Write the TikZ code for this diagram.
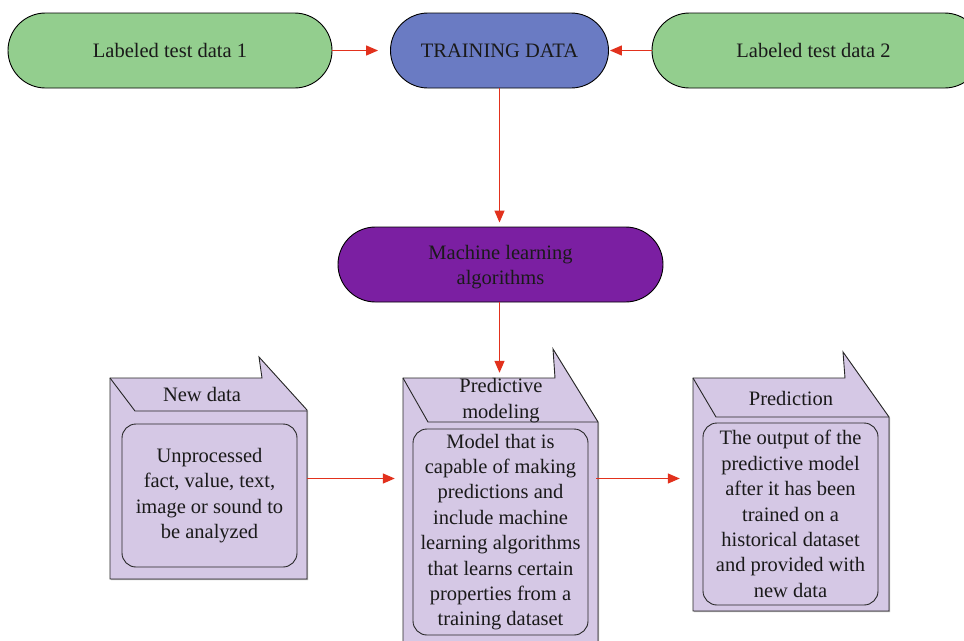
\documentclass[tikz,border=0pt]{standalone}
\usepackage{fontspec}
\setmainfont{Liberation Serif}
\usetikzlibrary{arrows.meta}
\definecolor{pgreen}{HTML}{93CE8E}
\definecolor{pblue}{HTML}{6A7BC3}
\definecolor{ppurple}{HTML}{7B1FA2}
\definecolor{plav}{HTML}{D5C8E5}
\definecolor{pred}{HTML}{E2311D}
\definecolor{ptext}{HTML}{1A1A1A}
\tikzset{
  pill/.style={draw=black, line width=0.9pt, rounded corners=37.5pt, minimum height=75pt, inner sep=0pt, text=ptext, align=center, font=\fontsize{20.5}{25.4}\selectfont},
  arr/.style={draw=pred, line width=1.3pt, -{Triangle[length=12pt,width=10pt]}},
  docshape/.style={fill=plav, draw=black!85, line width=0.9pt, line join=miter},
  docshadow/.style={fill=black!30},
  body/.style={inner sep=0pt, draw=none},
  innerbox/.style={draw=black!85, line width=0.9pt, rounded corners=14pt, inner sep=0pt, align=center, text=ptext, font=\fontsize{20.5}{25.4}\selectfont},
  doctitle/.style={inner sep=0pt, align=center, text=ptext, font=\fontsize{20.5}{25.4}\selectfont}
}
\begin{document}
\begin{tikzpicture}[x=1pt,y=-1pt]
\useasboundingbox (0,0) rectangle (964,640);
\clip (0,0) rectangle (964,640);
\fill[white] (0,0) rectangle (964,640);

% top row
\node[pill, fill=pgreen, minimum width=324pt] (lab1) at (170,50.5) {Labeled test data 1};
\node[pill, fill=pblue, minimum width=218pt] (train) at (499.5,50.5) {TRAINING DATA};
\node[pill, fill=pgreen, minimum width=330pt] (lab2) at (817,50.5) {\hspace*{-7pt}Labeled test data 2};
\node[pill, fill=ppurple, minimum width=325pt] (ml) at (500.5,264.5) {\rule{0pt}{20pt}Machine learning\\algorithms};

% document shapes: shadows
\fill[docshadow] (111.2,379.2) -- (263.2,379.2) -- (260.2,358.2) -- (308.2,411.2) -- (308.2,580.2) -- (111.2,580.2) -- cycle;
\fill[docshadow] (404.2,379.2) -- (556.2,379.2) -- (554.2,350.2) -- (599.2,423.2) -- (599.2,650) -- (404.2,650) -- cycle;
\fill[docshadow] (694.2,379.2) -- (846.2,379.2) -- (844.2,353.2) -- (890.2,418.2) -- (890.2,612.2) -- (694.2,612.2) -- cycle;

% New data
\filldraw[docshape] (110,378) -- (262,378) -- (259,357) -- (307,410) -- (307,579) -- (110,579) -- cycle;
\draw[docshape, fill=none] (110,378) -- (135,411) -- (307,411);
\node[body, minimum width=197pt, minimum height=201pt] (newbody) at (208.5,478.5) {};
\node[doctitle] (newtitle) at (202,394) {New data};
\node[innerbox, minimum width=175pt, minimum height=143pt] (newin) at (209.5,495.5) {Unprocessed\\fact, value, text,\\image or sound to\\be analyzed};

% Predictive modeling
\filldraw[docshape] (403,378) -- (555,378) -- (553,349) -- (598,422) -- (598,650) -- (403,650) -- cycle;
\draw[docshape, fill=none] (403,378) -- (428,422) -- (598,422);
\node[body, minimum width=195pt, minimum height=262pt] (predbody) at (500.5,509) {};
\node[doctitle] (predtitle) at (501,400.5) {Predictive\\modeling};
\node[innerbox, minimum width=175pt, minimum height=206pt] (predin) at (500.5,532) {Model that is\\capable of making\\predictions and\\include machine\\learning algorithms\\that learns certain\\properties from a\\training dataset};

% Prediction
\filldraw[docshape] (693,378) -- (845,378) -- (843,352) -- (889,417) -- (889,611) -- (693,611) -- cycle;
\draw[docshape, fill=none] (693,378) -- (716,417) -- (889,417);
\node[body, minimum width=196pt, minimum height=233pt] (predictbody) at (791,494.5) {};
\node[doctitle] (predicttitle) at (791,398) {Prediction};
\node[innerbox, minimum width=175pt, minimum height=182pt] (predictin) at (790.5,514) {The output of the\\predictive model\\after it has been\\trained on a\\historical dataset\\and provided with\\new data};

% connectors
\draw[arr, shorten >=12pt] (lab1) -- (train);
\draw[arr, shorten >=1pt] (lab2.west) -- (train.east);
\draw[arr, shorten >=4pt] (train.south) -- (train.south |- ml.north);
\draw[arr, shorten >=5pt] (train.south |- ml.south) -- (train.south |- predbody.north);
\draw[arr, shorten >=8pt] (newbody.east) -- (newbody.east -| predbody.west);
\draw[arr, shorten >=13pt, shorten <=-2pt] (newbody.east -| predbody.east) -- (newbody.east -| predictbody.west);
\end{tikzpicture}
\end{document}
